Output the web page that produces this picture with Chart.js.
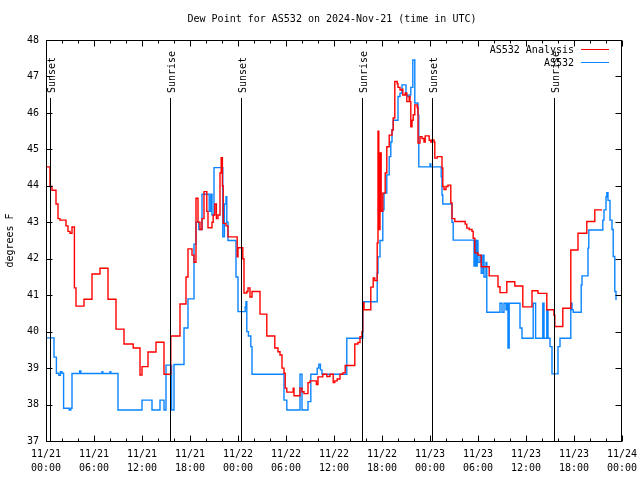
<!DOCTYPE html>
<html>
<head>
<meta charset="utf-8">
<script src="https://cdn.jsdelivr.net/npm/chart.js@4.4.1/dist/chart.umd.min.js"></script>
<style>
html,body{margin:0;padding:0;background:#fff;}
canvas{display:block;}
</style>
</head>
<body>
<canvas id="c" width="640" height="480"></canvas>
<script>
// ---- Data (time in hours since 2024-11-21 00:00 UTC) ----
const chartTitle = "Dew Point for AS532 on 2024-Nov-21 (time in UTC)";
const yAxisTitle = "degrees F";
const seriesNames = ["AS532 Analysis", "AS532"];

const analysisTimes = [0,0.5,0.75,1.25,1.5,1.75,2.5,2.75,3.0,3.25,3.55,3.75,4.75,5.75,6.75,7.75,8.75,9.75,10.9,11.75,12.0,12.75,13.75,14.75,15.6,16.75,17.5,17.75,18.25,18.5,18.75,19.0,19.25,19.5,19.75,20.1,20.25,20.75,20.9,21.1,21.3,21.5,21.75,21.9,22.05,22.15,22.5,22.75,23.9,24.0,24.6,24.75,25.1,25.25,25.5,25.75,26.75,27.6,28.6,29.0,29.25,29.5,29.75,29.9,30.1,30.9,31.0,31.75,32.0,32.25,32.75,33.0,33.8,34.0,34.6,35.1,35.5,35.9,36.1,36.4,36.75,37.1,37.4,38.6,39.0,39.25,39.5,39.6,39.75,40.6,40.9,41.1,41.4,41.5,41.6,41.75,41.9,42.1,42.4,42.6,42.9,43.25,43.4,43.6,43.9,44.0,44.25,44.5,44.6,44.9,45.1,45.4,45.5,45.6,45.75,45.9,46.1,46.4,46.5,46.75,47.0,47.25,47.4,47.9,48.1,48.25,48.5,48.6,48.9,49.5,49.6,49.75,50.0,50.25,50.6,50.75,51.1,52.4,52.6,52.9,53.25,53.4,53.6,54.0,54.4,55.4,56.5,56.75,57.6,58.6,59.6,60.75,61.5,62.6,63.5,63.6,64.6,65.6,66.5,67.6,68.6,69.5];
const analysisValues = [44.52,43.98,43.88,43.5,43.1,43.06,42.9,42.75,42.7,42.87,41.2,40.7,40.89,41.58,41.74,40.89,40.07,39.66,39.55,38.81,39.04,39.44,39.71,38.83,39.88,40.76,41.5,42.27,42.1,41.9,43.66,43.0,42.8,43.1,43.84,43.3,42.85,43.0,43.2,43.5,43.1,43.2,44.35,44.77,44.0,42.97,42.9,42.6,42.05,42.3,42.0,41.06,41.1,41.2,40.95,41.1,40.48,39.88,39.55,39.45,39.36,39.0,38.86,38.45,38.34,38.45,38.24,38.45,38.35,38.3,38.6,38.65,38.55,38.76,38.83,38.77,38.83,38.6,38.65,38.7,38.83,38.87,39.07,39.66,39.7,39.86,40.0,40.8,40.6,41.22,41.47,41.4,42.43,45.5,42.8,44.9,43.3,43.8,44.35,45.07,45.39,45.53,45.86,46.86,46.8,46.7,46.63,46.65,46.49,46.55,46.31,46.45,46.31,45.62,45.8,45.95,46.22,46.15,45.17,45.35,45.3,45.2,45.37,45.25,45.2,45.26,45.2,44.76,44.8,44.49,43.98,43.9,43.98,44.02,43.53,43.1,43.02,42.95,42.84,42.8,42.75,42.56,42.16,42.1,41.78,41.53,41.23,41.07,41.37,41.25,40.68,41.12,41.05,40.6,40.45,40.14,40.64,42.24,42.7,43.02,43.34,43.34];

const obsTimes = [0,1.0,1.3,1.6,1.8,2.0,2.2,2.9,3.1,3.25,4.2,4.35,7.0,7.1,8.0,8.1,9.0,12.0,13.25,14.25,14.75,15.0,15.7,16.0,17.25,17.75,18.5,18.75,19.1,19.5,20.4,20.6,20.75,21.0,22.1,22.3,22.5,22.6,22.75,23.75,24.0,24.9,25.0,25.1,25.3,25.6,25.75,29.75,30.1,31.75,32.0,32.75,33.1,33.9,34.1,34.3,34.5,37.6,39.6,41.4,41.5,41.75,42.1,42.25,42.6,42.9,43.1,43.25,43.4,44.0,44.25,44.5,45.0,45.25,45.5,45.6,45.85,46.1,46.5,46.6,48.0,48.1,49.4,49.5,49.6,50.75,50.9,53.5,53.6,53.75,53.9,54.0,54.25,54.4,54.6,54.75,55.0,55.1,56.75,57.0,57.25,57.5,57.6,57.75,57.9,59.25,59.5,60.9,61.2,62.1,62.25,62.6,62.75,63.0,63.25,64.0,64.25,65.6,65.75,65.9,66.9,67.0,67.75,67.85,69.6,69.75,70.0,70.1,70.25,70.5,70.75,70.9,71.1,71.25];
const obsValues = [39.83,39.3,38.86,38.8,38.9,38.86,37.9,37.85,37.9,38.85,38.92,38.85,38.9,38.85,38.9,38.85,37.85,38.12,37.85,38.12,37.85,39.08,37.85,39.1,40.1,40.9,42.4,43.0,42.8,43.77,43.3,43.77,43.2,44.5,42.6,43.5,43.7,43.0,42.5,41.5,40.55,40.68,40.82,40.0,39.88,39.59,38.83,38.12,37.85,38.83,37.85,38.08,38.83,39.0,39.11,38.95,38.83,39.82,40.82,41.6,42.05,42.5,43.34,43.8,44.3,44.8,45.2,45.53,45.8,46.45,46.54,46.77,46.49,46.45,46.5,46.7,47.45,46.27,45.94,44.52,44.6,44.52,44.25,43.75,43.5,43.0,42.51,41.8,42.51,41.8,42.5,41.9,42.1,41.6,42.1,41.5,41.9,40.53,40.78,40.53,40.78,40.6,40.78,39.55,40.78,40.1,39.82,40.78,39.82,40.78,39.82,40.6,39.82,39.59,38.84,39.59,39.82,40.78,40.6,40.53,41.28,41.53,42.29,42.79,43.06,43.34,43.7,43.81,43.6,43.06,42.8,42.06,41.1,40.87];

const xTickLabels = [["11/21","00:00"],["11/21","06:00"],["11/21","12:00"],["11/21","18:00"],["11/22","00:00"],["11/22","06:00"],["11/22","12:00"],["11/22","18:00"],["11/23","00:00"],["11/23","06:00"],["11/23","12:00"],["11/23","18:00"],["11/24","00:00"]];
const yTickValues = [37,38,39,40,41,42,43,44,45,46,47,48];

const eventTimes = [0.44, 15.54, 24.375, 39.54, 48.25, 63.5];
const eventLabels = ["Sunset","Sunrise","Sunset","Sunrise","Sunset","Sunrise"];

// ---- Styling ----
const FONT = "DejaVu Sans Mono";
const seriesColors = ["#ff0000", "#0a84ff"];

function toPoints(ts, vs){ return ts.map((t,i)=>({x:t, y:vs[i]})); }

const decorPlugin = {
  id: 'decor',
  afterDatasetsDraw(chart){
    const ctx = chart.ctx, a = chart.chartArea;
    const xs = chart.scales.x, ys = chart.scales.y;
    ctx.save();
    ctx.strokeStyle = '#000';
    ctx.lineWidth = 1;
    // event lines
    ctx.font = '10px "' + FONT + '"';
    ctx.fillStyle = '#000';
    eventTimes.forEach((t,i)=>{
      const px = Math.round(xs.getPixelForValue(t)) + 0.5;
      ctx.beginPath(); ctx.moveTo(px, a.top + 58); ctx.lineTo(px, a.bottom); ctx.stroke();
      ctx.save();
      ctx.translate(px + 1.5, a.top + 53);
      ctx.rotate(-Math.PI/2);
      ctx.textAlign = 'left'; ctx.textBaseline = 'middle';
      ctx.fillText(eventLabels[i], 0, 0);
      ctx.restore();
    });
    // border
    const L = Math.round(a.left) + 0.5, R = Math.round(a.right) - 0.5;
    const T = Math.round(a.top) + 0.5, B = Math.round(a.bottom) + 0.5;
    ctx.strokeRect(L, T, R - L, B - T);
    // ticks (inward, mirrored)
    ctx.beginPath();
    for (let h = xs.min; h <= xs.max + 1e-9; h += 2){
      const px = Math.round(xs.getPixelForValue(h)) + 0.5;
      const len = (Math.abs(h % 6) < 1e-9) ? 6 : 3;
      ctx.moveTo(px, B); ctx.lineTo(px, B - len);
      ctx.moveTo(px, T); ctx.lineTo(px, T + len);
    }
    yTickValues.forEach(v=>{
      const py = Math.round(ys.getPixelForValue(v)) + 0.5;
      ctx.moveTo(L, py); ctx.lineTo(L + 6, py);
      ctx.moveTo(R, py); ctx.lineTo(R - 6, py);
    });
    ctx.stroke();
    // legend
    ctx.textAlign = 'right'; ctx.textBaseline = 'middle';
    chart.data.datasets.forEach((ds,i)=>{
      const ly = a.top + 10 + i*13;
      ctx.fillStyle = '#000';
      ctx.fillText(ds.label, a.right - 48, ly);
      ctx.strokeStyle = ds.borderColor;
      ctx.beginPath(); ctx.moveTo(a.right - 41, ly - 0.5); ctx.lineTo(a.right - 13, ly - 0.5); ctx.stroke();
    });
    // title
    ctx.fillStyle = '#000';
    ctx.textAlign = 'center'; ctx.textBaseline = 'middle';
    ctx.fillText(chartTitle, 332, 19);
    // y axis title
    ctx.save();
    ctx.translate(10, (a.top + a.bottom)/2);
    ctx.rotate(-Math.PI/2);
    ctx.textAlign = 'center'; ctx.textBaseline = 'middle';
    ctx.fillText(yAxisTitle, 0, 0);
    ctx.restore();
    ctx.restore();
  }
};

new Chart(document.getElementById('c'), {
  type: 'line',
  data: {
    datasets: [
      { label: seriesNames[0], data: toPoints(analysisTimes, analysisValues), borderColor: seriesColors[0], borderWidth: 1.4, pointRadius: 0, stepped: 'before', fill: false },
      { label: seriesNames[1], data: toPoints(obsTimes, obsValues), borderColor: seriesColors[1], borderWidth: 1.4, pointRadius: 0, stepped: 'before', fill: false }
    ]
  },
  options: {
    responsive: false,
    animation: false,
    devicePixelRatio: 1,
    layout: { padding: { top: 40, right: 18, left: 0, bottom: 0 } },
    plugins: { legend: { display: false }, title: { display: false }, tooltip: { enabled: false } },
    scales: {
      x: {
        type: 'linear', min: 0, max: 72,
        afterFit(s){ s.height = 39; s.paddingLeft = 0; s.paddingRight = 0; },
        afterBuildTicks(s){ s.ticks = xTickLabels.map((_,i)=>({value: i*6})); },
        ticks: { autoSkip: false, maxRotation: 0, minRotation: 0, padding: 7, color: '#000',
          font: { family: FONT, size: 10, lineHeight: 1.35 },
          callback: (v)=> xTickLabels[Math.round(v/6)] },
        grid: { display: false, drawTicks: false },
        border: { display: false }
      },
      y: {
        min: 37, max: 48,
        afterFit(s){ s.width = 46; s.paddingTop = 0; s.paddingBottom = 0; },
        afterBuildTicks(s){ s.ticks = yTickValues.map(v=>({value: v})); },
        ticks: { padding: 7, color: '#000', font: { family: FONT, size: 10 } },
        grid: { display: false, drawTicks: false },
        border: { display: false }
      }
    }
  },
  plugins: [decorPlugin]
});
</script>
</body>
</html>
